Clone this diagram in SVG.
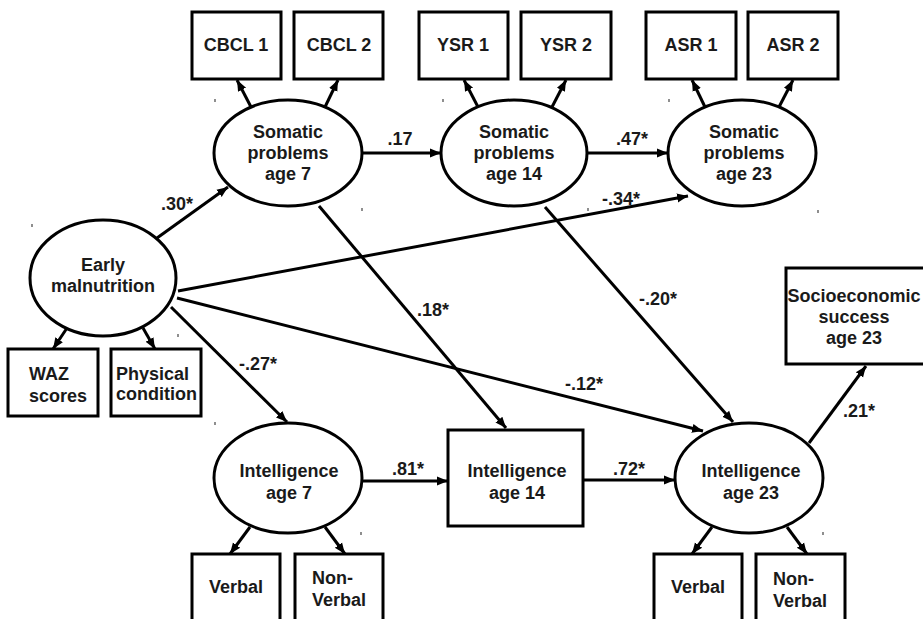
<svg xmlns="http://www.w3.org/2000/svg" width="923" height="619" viewBox="0 0 923 619">
<style>
.n{fill:#fff;stroke:#000;stroke-width:3}
.t{font-family:"Liberation Sans",Arial,sans-serif;font-weight:bold;font-size:18px;fill:#1a1a1a;text-anchor:middle}
.l{text-anchor:start}
.c{fill:none;stroke:#000;stroke-width:3}
.k{stroke:#444;stroke-width:1.2}
</style>
<defs>
<marker id="a" markerUnits="userSpaceOnUse" markerWidth="12" markerHeight="12" viewBox="0 0 12 12" refX="11" refY="6" orient="auto">
<path d="M0,1.5 L11,6 L0,10.5 Z" fill="#000"/>
</marker>
</defs>
<rect width="923" height="619" fill="#fff"/>
<g id="connectors">
<path class="c" marker-end="url(#a)" d="M251,107 L237,80"/>
<path class="c" marker-end="url(#a)" d="M325,107 L338,80"/>
<path class="c" marker-end="url(#a)" d="M478,107 L464,80"/>
<path class="c" marker-end="url(#a)" d="M552,107 L566,80"/>
<path class="c" marker-end="url(#a)" d="M705,107 L692,80"/>
<path class="c" marker-end="url(#a)" d="M779,107 L793,80"/>
<path class="c" marker-end="url(#a)" d="M362,153 L441,153"/>
<path class="c" marker-end="url(#a)" d="M588,153 L668,153"/>
<path class="c" marker-end="url(#a)" d="M157,238 L228,187"/>
<path class="c" marker-end="url(#a)" d="M178,291 L688,196"/>
<path class="c" marker-end="url(#a)" d="M177,298 L703,431"/>
<path class="c" marker-end="url(#a)" d="M171,307 L287,422"/>
<path class="c" marker-end="url(#a)" d="M319,206 L506,428"/>
<path class="c" marker-end="url(#a)" d="M545,207 L733,422"/>
<path class="c" marker-end="url(#a)" d="M362,481 L448,481"/>
<path class="c" marker-end="url(#a)" d="M583,480 L675,480"/>
<path class="c" marker-end="url(#a)" d="M809,443 L866,366"/>
<path class="c" marker-end="url(#a)" d="M67,328 L53,349"/>
<path class="c" marker-end="url(#a)" d="M143,328 L155,349"/>
<path class="c" marker-end="url(#a)" d="M250,527 L230,554"/>
<path class="c" marker-end="url(#a)" d="M325,527 L345,554"/>
<path class="c" marker-end="url(#a)" d="M712,527 L692,554"/>
<path class="c" marker-end="url(#a)" d="M787,527 L807,554"/>
<g class="t">
<text x="400" y="145">.17</text>
<text x="632" y="145">.47*</text>
<text x="177" y="210">.30*</text>
<text x="621" y="205">-.34*</text>
<text x="258" y="370">-.27*</text>
<text x="433" y="316">.18*</text>
<text x="584" y="390">-.12*</text>
<text x="658" y="305">-.20*</text>
<text x="408" y="475">.81*</text>
<text x="629" y="475">.72*</text>
<text x="859" y="417">.21*</text>
</g>
</g>
<g id="cbcl1"><rect class="n" x="192" y="12" width="89" height="67"/><text class="t" x="236" y="51">CBCL 1</text></g>
<g id="cbcl2"><rect class="n" x="294" y="12" width="89" height="67"/><text class="t" x="339" y="51">CBCL 2</text></g>
<g id="ysr1"><rect class="n" x="419" y="12" width="89" height="67"/><text class="t" x="463" y="51">YSR 1</text></g>
<g id="ysr2"><rect class="n" x="521" y="12" width="90" height="67"/><text class="t" x="566" y="51">YSR 2</text></g>
<g id="asr1"><rect class="n" x="646" y="12" width="90" height="67"/><text class="t" x="691" y="51">ASR 1</text></g>
<g id="asr2"><rect class="n" x="748" y="12" width="90" height="67"/><text class="t" x="793" y="51">ASR 2</text></g>
<g id="som7"><ellipse class="n" cx="288" cy="153" rx="74" ry="53"/><text class="t" x="288" y="138">Somatic</text><text class="t" x="288" y="159">problems</text><text class="t" x="288" y="180">age 7</text></g>
<g id="som14"><ellipse class="n" cx="514" cy="153" rx="73" ry="53"/><text class="t" x="514" y="138">Somatic</text><text class="t" x="514" y="159">problems</text><text class="t" x="514" y="180">age 14</text></g>
<g id="som23"><ellipse class="n" cx="742" cy="153" rx="74" ry="53"/><text class="t" x="744" y="138">Somatic</text><text class="t" x="744" y="159">problems</text><text class="t" x="744" y="180">age 23</text></g>
<g id="early"><ellipse class="n" cx="103" cy="278" rx="73" ry="58"/><text class="t" x="103" y="271">Early</text><text class="t" x="103" y="292">malnutrition</text></g>
<g id="waz"><rect class="n" x="8" y="349" width="90" height="67"/><text class="t l" x="29" y="380">WAZ</text><text class="t l" x="29" y="402">scores</text></g>
<g id="phys"><rect class="n" x="111" y="349" width="90" height="67"/><text class="t l" x="116" y="380">Physical</text><text class="t l" x="116" y="400">condition</text></g>
<g id="int7"><ellipse class="n" cx="288" cy="478" rx="74" ry="55"/><text class="t" x="289" y="477">Intelligence</text><text class="t" x="289" y="499">age 7</text></g>
<g id="int14"><rect class="n" x="448" y="430" width="135" height="96"/><text class="t" x="517" y="477">Intelligence</text><text class="t" x="517" y="499">age 14</text></g>
<g id="int23"><ellipse class="n" cx="749" cy="478" rx="74" ry="55"/><text class="t" x="751" y="477">Intelligence</text><text class="t" x="751" y="499">age 23</text></g>
<g id="socio"><rect class="n" x="786" y="268" width="140" height="96"/><text class="t" x="854" y="302">Socioeconomic</text><text class="t" x="854" y="323">success</text><text class="t" x="854" y="344">age 23</text></g>
<g id="verbal7"><rect class="n" x="192" y="554" width="88" height="70"/><text class="t" x="236" y="593">Verbal</text></g>
<g id="nonverbal7"><rect class="n" x="295" y="554" width="88" height="70"/><text class="t l" x="312" y="584">Non-</text><text class="t l" x="312" y="606">Verbal</text></g>
<g id="verbal23"><rect class="n" x="654" y="554" width="88" height="70"/><text class="t" x="698" y="593">Verbal</text></g>
<g id="nonverbal23"><rect class="n" x="756" y="554" width="89" height="70"/><text class="t l" x="773" y="585">Non-</text><text class="t l" x="773" y="607">Verbal</text></g>
<g id="ticks" class="k">
<line x1="215" y1="99" x2="215" y2="102"/><line x1="362" y1="208" x2="362" y2="211"/>
<line x1="443" y1="99" x2="443" y2="102"/><line x1="588" y1="208" x2="588" y2="211"/>
<line x1="669" y1="99" x2="669" y2="102"/><line x1="818" y1="210" x2="818" y2="213"/>
<line x1="32" y1="224" x2="32" y2="227"/><line x1="178" y1="334" x2="178" y2="337"/>
<line x1="215" y1="422" x2="215" y2="425"/><line x1="361" y1="532" x2="361" y2="535"/>
<line x1="823" y1="532" x2="823" y2="535"/>
</g>
</svg>
